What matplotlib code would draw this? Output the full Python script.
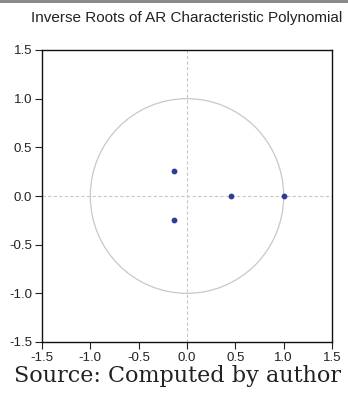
import numpy as np
import matplotlib
matplotlib.use("Agg")
import matplotlib.pyplot as plt
from matplotlib.patches import Circle, Rectangle

real_parts = [-0.13, -0.13, 0.45, 1.0]
imag_parts = [0.26, -0.25, 0.0, 0.0]
ticks = [-1.5, -1.0, -0.5, 0.0, 0.5, 1.0, 1.5]
tick_labels = ["-1.5", "-1.0", "-0.5", "0.0", "0.5", "1.0", "1.5"]

W, H = 348, 394
fig = plt.figure(figsize=(W/100, H/100), dpi=100)
fig.patches.append(Rectangle((0, 1 - 3/H), 1, 3/H, transform=fig.transFigure,
                             facecolor="#8a8a8a", edgecolor="none"))

ax = fig.add_axes([42/W, 1 - 342/H, 290/W, 292/H])
ax.set_xlim(-1.5, 1.5)
ax.set_ylim(-1.5, 1.5)
ax.add_patch(Circle((0, 0), 1.0, fill=False, edgecolor="#c8c8c8", linewidth=0.9))
ax.axhline(0, color="#c8c8c8", linestyle=(0, (3, 2)), linewidth=0.8)
ax.axvline(0, color="#c8c8c8", linestyle=(0, (3, 2)), linewidth=0.8)
ax.scatter(real_parts, imag_parts, s=10, color="#2a3f94", zorder=3)

ax.set_xticks(ticks)
ax.set_xticklabels(tick_labels)
ax.set_yticks(ticks)
ax.set_yticklabels(tick_labels)
for lbl in ax.get_xticklabels() + ax.get_yticklabels():
    lbl.set_fontfamily("Liberation Sans")
    lbl.set_fontsize(9.5)
    lbl.set_color("#222222")
ax.tick_params(direction="out", length=5, width=0.8, pad=2, color="#222222")
for sp in ax.spines.values():
    sp.set_linewidth(1.0)
    sp.set_color("#111111")

fig.text(187/W, 1 - 18/H, "Inverse Roots of AR Characteristic Polynomial",
         ha="center", va="center", fontsize=11, family="Liberation Sans", color="#222222")
fig.text(177/W, 1 - 376/H, "Source: Computed by author",
         ha="center", va="center", fontsize=16, family="DejaVu Serif", color="#222222")

fig.savefig("out.png", dpi=100)
